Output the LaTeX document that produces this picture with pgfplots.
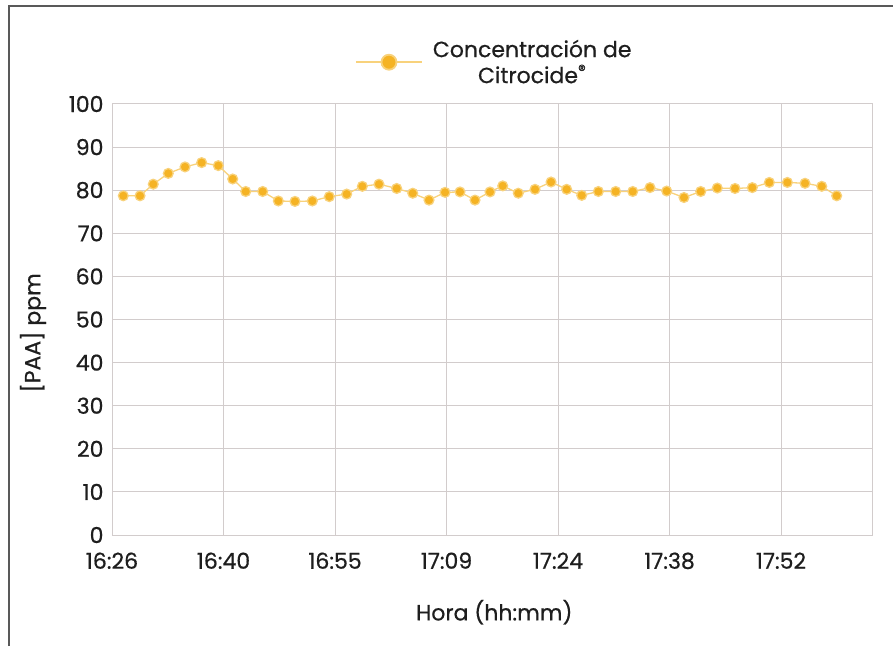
\documentclass[border=0pt]{standalone}
\usepackage{fontspec}
\setmainfont{Poppins}[UprightFeatures={FakeBold=0.6}]
\usepackage{pgfplots}
\pgfplotsset{compat=1.18}
\definecolor{dot}{HTML}{F5B324}
\definecolor{ln}{HTML}{F8D27C}
\definecolor{grd}{HTML}{D2CCCC}
\definecolor{txt}{HTML}{1E1E1E}
\pgfplotstableread{
t v
1.46 78.7
3.62 78.7
5.33 81.4
7.27 83.9
9.43 85.4
11.58 86.4
13.73 85.7
15.59 82.6
17.27 79.7
19.46 79.7
21.48 77.5
23.63 77.4
25.87 77.5
28.06 78.5
30.31 79.1
32.33 80.9
34.48 81.4
36.77 80.4
38.84 79.3
40.94 77.7
43.01 79.5
44.94 79.6
46.88 77.7
48.82 79.6
50.46 81.0
52.47 79.3
54.63 80.2
56.70 81.9
58.72 80.2
60.66 78.8
62.81 79.7
65.05 79.7
67.25 79.7
69.48 80.6
71.64 79.8
73.87 78.3
76.03 79.7
78.17 80.5
80.46 80.4
82.69 80.6
84.89 81.8
87.22 81.8
89.50 81.6
91.66 80.9
93.59 78.7
}\datatable
\begin{document}
\begin{tikzpicture}
\useasboundingbox (0,0) rectangle (893pt,646pt);
\draw[black!65, line width=1.2pt] (9pt,0pt) -- (9pt,640pt) -- (893pt,640pt);
\begin{axis}[
  at={(112pt,111pt)}, anchor=south west,
  scale only axis, width=760pt, height=431pt,
  xmin=0, xmax=98.15, ymin=0, ymax=100,
  xtick={0,14.4,28.8,43.2,57.6,72,86.4},
  xticklabels={16:26,16:40,16:55,17:09,17:24,17:38,17:52},
  ytick={0,10,...,100},
  grid=major,
  major grid style={grd, line width=1pt},
  axis line style={grd, line width=1pt},
  major tick length=0pt, tick style={draw=none},
  /pgf/number format/assume math mode=true,
  tick label style={font=\fontsize{22}{26}\selectfont, text=txt},
  yticklabel style={xshift=-5pt},
  xticklabel style={yshift=-14pt},
  xlabel={Hora (hh:mm)},
  ylabel={[PAA] ppm},
  label style={font=\fontsize{22}{26}\selectfont, text=txt},
  xlabel style={at={(axis description cs:0.503,-0.179)}, anchor=center},
  ylabel style={at={(axis description cs:-0.104,0.469)}, anchor=center},
  legend style={at={(axis description cs:0.503,1.097)}, anchor=center,
    draw=none, fill=none, font=\fontsize{22}{26}\selectfont, text=txt,
    cells={align=center},
    /tikz/every odd column/.append style={column sep=8pt}},
  legend image code/.code={\draw[mark repeat=2,mark phase=2] plot coordinates {(0pt,0pt)(33pt,0pt)(66pt,0pt)};},
  legend image post style={mark size=7.5pt, line width=1.8pt},
]
\addplot[color=ln, line width=1.3pt, mark=*, mark size=4.9pt,
  mark options={draw=none, fill=dot}] table[x=t, y=v] {\datatable};
\addlegendentry{Concentración de\\Citrocide\textsuperscript{®}}
\end{axis}
\end{tikzpicture}
\end{document}
